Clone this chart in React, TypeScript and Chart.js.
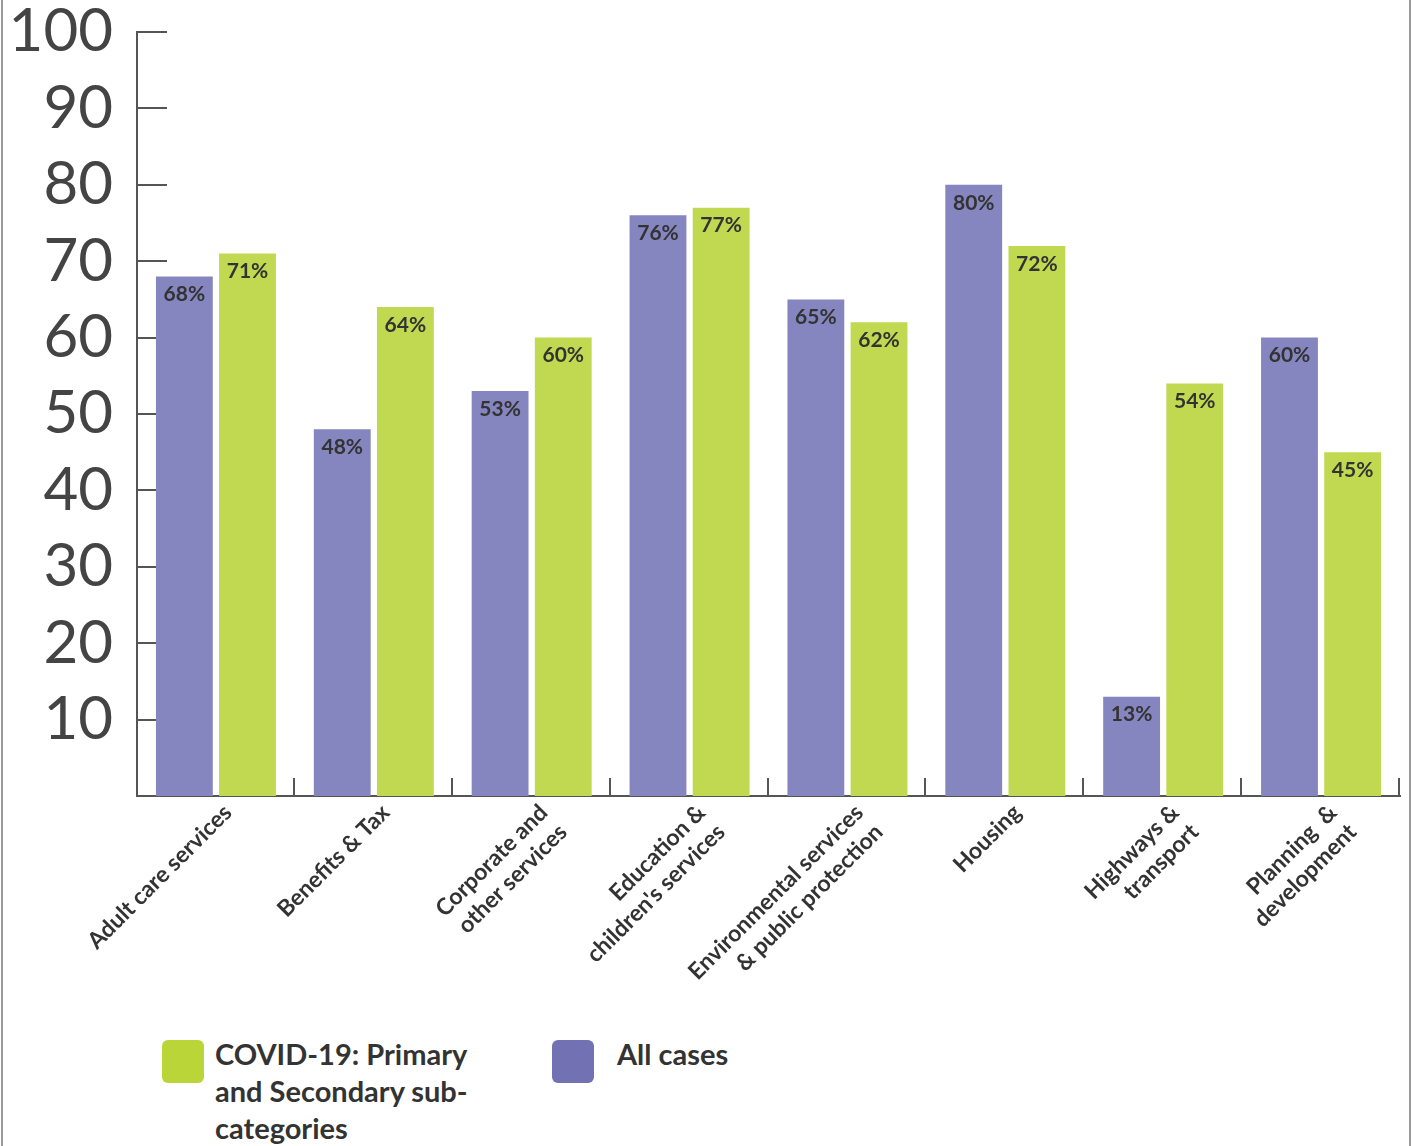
import React, { useEffect, useRef } from "react";
import { Chart, registerables } from "chart.js";

Chart.register(...registerables);

const categories: (string | string[])[] = [
  "Adult care services",
  "Benefits & Tax",
  ["Corporate and", "other services"],
  ["Education &", "children's services"],
  ["Environmental services", "& public protection"],
  "Housing",
  ["Highways &", "transport"],
  ["Planning  &", "development"],
];

const allCases = [68, 48, 53, 76, 65, 80, 13, 60];
const covid = [71, 64, 60, 77, 62, 72, 54, 45];

const yTicks = [0, 10, 20, 30, 40, 50, 60, 70, 80, 90, 100];

const PURPLE = "#8585BF";
const GREEN = "#C1D951";
const AXIS = "#555555";

const innerTicks = {
  id: "innerTicks",
  beforeDatasetsDraw(chart: any) {
    const { ctx, chartArea, scales } = chart;
    ctx.save();
    ctx.strokeStyle = AXIS;
    ctx.lineWidth = 2;
    const ys = scales.y;
    ys.ticks.forEach((t: any) => {
      if (t.value <= 0) return;
      const y = Math.round(ys.getPixelForValue(t.value));
      ctx.beginPath();
      ctx.moveTo(chartArea.left, y);
      ctx.lineTo(chartArea.left + 30, y);
      ctx.stroke();
    });
    const n = categories.length;
    const w = (chartArea.right - chartArea.left) / n;
    for (let i = 1; i <= n; i++) {
      const x = Math.round(chartArea.left + i * w) - 1;
      ctx.beginPath();
      ctx.moveTo(x, chartArea.bottom);
      ctx.lineTo(x, chartArea.bottom - 18);
      ctx.stroke();
    }
    ctx.restore();
  },
};

const valueLabels = {
  id: "valueLabels",
  afterDatasetsDraw(chart: any) {
    const { ctx } = chart;
    ctx.save();
    ctx.font = "bold 21px Lato";
    ctx.fillStyle = "#333333";
    ctx.textAlign = "center";
    ctx.textBaseline = "middle";
    chart.data.datasets.forEach((ds: any, di: number) => {
      const meta = chart.getDatasetMeta(di);
      meta.data.forEach((el: any, i: number) => {
        ctx.fillText(`${ds.data[i]}%`, el.x, el.y + 18);
      });
    });
    ctx.restore();
  },
};

export default function App() {
  const ref = useRef<HTMLCanvasElement>(null);

  useEffect(() => {
    document.body.style.margin = "0";
    const chart = new Chart(ref.current!, {
      type: "bar",
      data: {
        labels: categories,
        datasets: [
          {
            label: "All cases",
            data: allCases,
            backgroundColor: PURPLE,
            categoryPercentage: 0.8,
            barPercentage: 0.9,
          },
          {
            label: "COVID-19: Primary and Secondary sub-categories",
            data: covid,
            backgroundColor: GREEN,
            categoryPercentage: 0.8,
            barPercentage: 0.9,
          },
        ],
      },
      options: {
        animation: false,
        responsive: false,
        maintainAspectRatio: false,
        layout: { padding: { top: 32, right: 12, left: 0, bottom: 0 } },
        plugins: {
          legend: { display: false },
          tooltip: { enabled: false },
        },
        scales: {
          y: {
            min: 0,
            max: 100,
            afterBuildTicks: (s: any) => {
              s.ticks = yTicks.map((v) => ({ value: v }));
            },
            afterFit: (s: any) => {
              s.width = 137;
              s.paddingTop = 0;
              s.paddingBottom = 0;
            },
            ticks: {
              callback: (v: any) => (Number(v) === 0 ? "" : String(v)),
              font: { family: "Lato", size: 60 },
              color: "#444444",
              padding: 24,
            },
            grid: { display: false, drawTicks: false },
            border: { display: true, color: AXIS, width: 2 },
          },
          x: {
            afterFit: (s: any) => {
              s.height = 214;
              s.paddingLeft = 0;
              s.paddingRight = 0;
            },
            ticks: {
              autoSkip: false,
              maxRotation: 45,
              minRotation: 45,
              font: { family: "Lato", size: 23, weight: "bold" },
              color: "#333333",
              padding: 3,
              labelOffset: 12,
            },
            grid: { display: false, drawTicks: false },
            border: { display: true, color: AXIS, width: 2 },
          },
        },
      },
      plugins: [innerTicks, valueLabels],
    });
    return () => chart.destroy();
  }, []);

  const textStyle: React.CSSProperties = {
    position: "absolute",
    fontFamily: "Lato",
    fontWeight: 700,
    fontSize: 29,
    lineHeight: "37px",
    color: "#333333",
  };

  return (
    <div style={{ position: "relative", width: 1412, height: 1146, background: "#fff", overflow: "hidden" }}>
      <canvas ref={ref} width={1412} height={1010} style={{ position: "absolute", left: 0, top: 0 }} />
      <div style={{ position: "absolute", left: 1, top: 0, width: 2, height: 1146, background: "#9a9a9a" }} />
      <div style={{ position: "absolute", left: 1409, top: 0, width: 2, height: 1146, background: "#9a9a9a" }} />
      <div style={{ position: "absolute", left: 162, top: 1040, width: 42, height: 43, borderRadius: 6, background: "#B9D537" }} />
      <div style={{ ...textStyle, left: 215, top: 1035 }}>
        COVID-19: Primary
        <br />
        and Secondary sub-
        <br />
        categories
      </div>
      <div style={{ position: "absolute", left: 552, top: 1040, width: 42, height: 43, borderRadius: 6, background: "#7171B3" }} />
      <div style={{ ...textStyle, left: 617, top: 1035 }}>All cases</div>
    </div>
  );
}
